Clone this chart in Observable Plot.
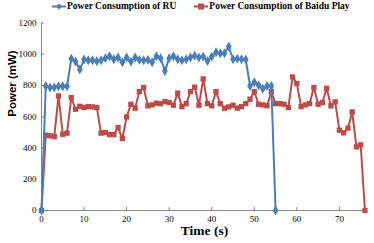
<!DOCTYPE html>
<html><head><meta charset="utf-8">
<script src="https://cdn.jsdelivr.net/npm/d3@7"></script>
<script src="https://cdn.jsdelivr.net/npm/@observablehq/plot@0.6"></script>
<style>
body{margin:0;background:#fff;width:374px;height:243px;overflow:hidden}
#legend{height:12px;display:flex;justify-content:flex-start;align-items:center;font:bold 9.5px "Liberation Serif",serif;color:#000;padding-left:52px;box-sizing:border-box}
#legend span.item{display:inline-flex;align-items:center;margin-right:18px}
#legend svg{margin-right:1px}
</style></head><body>
<div id="legend"></div>
<div id="chart"></div>
<script>
const seriesNames = ["Power Consumption of RU", "Power Consumption of Baidu Play"];
const colors = ["#4A7EBB", "#BE4B48"];
const ruTime = [0,1,2,3,4,5,6,7,8,9,10,11,12,13,14,15,16,17,18,19,20,21,22,23,24,25,26,27,28,29,30,31,32,33,34,35,36,37,38,39,40,41,42,43,44,45,46,47,48,49,50,51,52,53,54,55];
const ruPower = [0,797,787,787,795,795,795,972,953,902,966,962,962,955,962,975,987,968,979,949,979,953,979,964,962,964,949,987,975,893,975,987,968,962,968,979,991,979,985,957,985,1013,1006,1006,1049,968,972,968,966,797,821,802,780,797,797,0];
const baiduTime = [0,1,2,3,4,5,6,7,8,9,10,11,12,13,14,15,16,17,18,19,20,21,22,23,24,25,26,27,28,29,30,31,32,33,34,35,36,37,38,39,40,41,42,43,44,45,46,47,48,49,50,51,52,53,54,55,56,57,58,59,60,61,62,63,64,65,66,67,68,69,70,71,72,73,74,75,76];
const baiduPower = [0,482,478,473,733,488,495,723,648,667,659,665,663,659,495,499,486,486,531,461,599,680,655,761,787,670,676,687,684,697,691,674,751,665,684,761,789,674,842,684,670,761,684,655,663,674,655,665,684,712,761,680,676,670,761,684,684,680,659,855,812,665,676,684,787,680,691,782,670,695,514,497,527,631,407,420,0];
const xTicks = [0,10,20,30,40,50,60,70];
const yTicks = [0,200,400,600,800,1000,1200];

const ru = ruTime.map((t,i)=>({t, p: ruPower[i], s: seriesNames[0]}));
const baidu = baiduTime.map((t,i)=>({t, p: baiduPower[i], s: seriesNames[1]}));

// legend
const leg = document.getElementById("legend");
seriesNames.forEach((n,i)=>{
  const sym = i===0
    ? `<polygon points="7,2.5 10,5.5 7,8.5 4,5.5" fill="${colors[i]}"/>`
    : `<rect x="4" y="2.5" width="6" height="6" fill="${colors[i]}"/>`;
  leg.insertAdjacentHTML("beforeend",
    `<span class="item"><svg width="14" height="11"><line x1="0" x2="14" y1="5.5" y2="5.5" stroke="${colors[i]}" stroke-width="2"/>${sym}</svg>${n}</span>`);
});

const chart = Plot.plot({
  width: 374, height: 231,
  marginLeft: 41, marginRight: 7, marginTop: 10.5, marginBottom: 33,
  x: {domain: [0, 76.6], ticks: xTicks, label: null},
  y: {domain: [0, 1200], ticks: yTicks, label: null},
  style: {fontFamily: "'Liberation Serif', serif", fontSize: "9px", color: "#000", background: "#fff"},
  marks: [
    Plot.ruleY([0], {stroke: "#868686", strokeWidth: 1}),
    Plot.ruleX([0], {stroke: "#868686", strokeWidth: 1}),
    Plot.axisX({ticks: xTicks, tickSize: -3, tickPadding: 8, tickFormat: d => String(d), stroke: "#868686", fontSize: 9, label: null}),
    Plot.axisY({ticks: yTicks, tickSize: -3, tickPadding: 8, tickFormat: d => String(d), stroke: "#868686", fontSize: 9, label: null}),
    Plot.line(baidu, {x: "t", y: "p", stroke: colors[1], strokeWidth: 2}),
    Plot.dot(baidu, {x: "t", y: "p", symbol: "square", r: 3, fill: colors[1], stroke: "none"}),
    Plot.line(ru, {x: "t", y: "p", stroke: colors[0], strokeWidth: 2}),
    Plot.dot(ru, {x: "t", y: "p", symbol: "diamond", r: 3, fill: colors[0], stroke: "none"}),
    Plot.text(["Time (s)"], {frameAnchor: "bottom", dy: 24, fontFamily: "'Liberation Serif', serif", fontWeight: "bold", fontSize: 13.5, fill: "#000"}),
    Plot.text(["Power (mW)"], {frameAnchor: "left", dx: -29, rotate: -90, fontFamily: "'Liberation Sans', sans-serif", fontWeight: "bold", fontSize: 11.5, fill: "#000"})
  ]
});
document.getElementById("chart").appendChild(chart);
</script>
</body></html>
